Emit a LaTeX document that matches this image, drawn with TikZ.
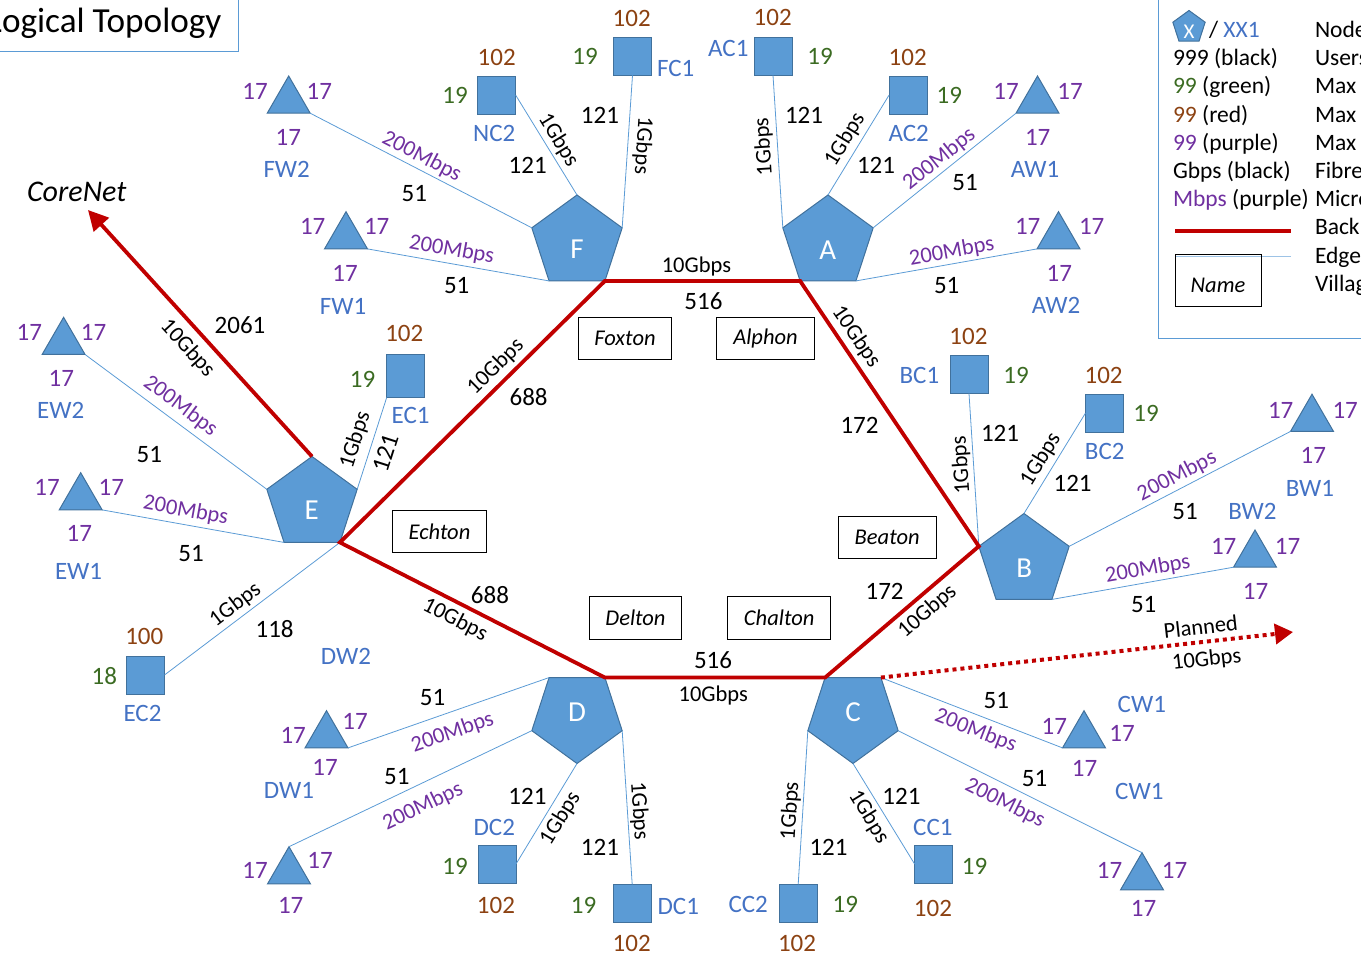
\documentclass[tikz,border=0pt]{standalone}
\usepackage{fontspec}
\setmainfont{Carlito}
\usetikzlibrary{shapes.geometric,arrows.meta}
\definecolor{shfill}{HTML}{5B9BD5}
\definecolor{shedge}{HTML}{41719C}
\definecolor{edgeblue}{HTML}{5B9BD5}
\definecolor{legblue}{HTML}{9DC3E6}
\definecolor{bbred}{HTML}{C00000}
\definecolor{nblue}{HTML}{4472C4}
\definecolor{ngreen}{HTML}{3B6B22}
\definecolor{nbrown}{HTML}{8C4212}
\definecolor{npurple}{HTML}{7030A0}
\tikzset{
  every node/.style={inner sep=0pt, outer sep=0pt},
  fnum/.style={font=\fontsize{25}{30}\selectfont},
  blk/.style={fnum, text=black},
  brn/.style={fnum, text=nbrown},
  grn/.style={fnum, text=ngreen},
  pur/.style={fnum, text=npurple},
  nm/.style={fnum, text=nblue},
  rate/.style={font=\fontsize{22.5}{27}\selectfont, text=black},
  mbps/.style={rate, text=npurple},
  cell/.style={draw=shedge, fill=shfill, line width=1pt, minimum size=38pt},
  wtri/.style={regular polygon, regular polygon sides=3, draw=shedge, fill=shfill, line width=1pt, minimum size=49.6pt},
  pent/.style={regular polygon, regular polygon sides=5, draw=shedge, fill=shfill, line width=1pt, minimum size=95pt},
  pentdown/.style={pent, shape border rotate=180},
  plet/.style={font=\fontsize{29}{33}\selectfont, text=white},
  link/.style={draw=edgeblue, line width=0.8pt},
  bb/.style={draw=bbred, line width=3.8pt},
  vil/.style={draw=black, line width=1pt, font=\fontsize{22.5}{27}\selectfont\itshape, minimum height=42.5pt},
  legt/.style={font=\fontsize{23.5}{28}\selectfont, anchor=base west},
  framebox/.style={draw=edgeblue, line width=1pt},
}
\begin{document}
\begin{tikzpicture}[x=1pt,y=-1pt]
\path[use as bounding box] (0,0) rectangle (1361,957);
\clip (0,0) rectangle (1361,957);

% ---------- title ----------
\draw[framebox] (-5,-5) rectangle (238.3,51.7);
\node[font=\fontsize{35.2}{40}\selectfont, anchor=base east] (title) at (221.5,33) {Logical Topology};

% ---------- legend ----------
\draw[framebox] (1158,-5) rectangle (1375,338.3);
\node[pent, minimum size=34pt] (lpent) at (1189,27.5) {};
\node[font=\fontsize{21}{25}\selectfont, text=white] (lpx) at (1189,31.5) {X};
\node[legt] (lslash) at (1209,37.5) {/ \textcolor{nblue}{XX1}};
\node[legt] (l2) at (1173,65.7) {999 (black)};
\node[legt] (l3) at (1173,93.9) {\textcolor{ngreen}{99} (green)};
\node[legt] (l4) at (1173,122.1) {\textcolor{nbrown}{99} (red)};
\node[legt] (l5) at (1173,150.3) {\textcolor{npurple}{99} (purple)};
\node[legt] (l6) at (1173,178.5) {Gbps (black)};
\node[legt] (l7) at (1173,206.7) {\textcolor{npurple}{Mbps} (purple)};
\node[legt] (r1) at (1315,37.5) {Node};
\node[legt] (r2) at (1315,65.7) {Users};
\node[legt] (r3) at (1315,93.9) {Max};
\node[legt] (r4) at (1315,122.1) {Max};
\node[legt] (r5) at (1315,150.3) {Max};
\node[legt] (r6) at (1315,178.5) {Fibre};
\node[legt] (r7) at (1315,206.7) {Microwave};
\node[legt] (r8) at (1315,234.9) {Backbone};
\node[legt] (r9) at (1315,263.1) {Edge};
\node[legt] (r10) at (1315,291.3) {Village};
\coordinate (lra) at (1175,230.7);
\coordinate (lrb) at (1290.7,230.7);
\draw[bb] (lra) -- (lrb);
\coordinate (lba) at (1175,256.5);
\coordinate (lbb) at (1291,256.5);
\draw[draw=legblue, line width=1.8pt] (lba) -- (lbb);
\node[draw=black, line width=1pt, minimum width=86pt, minimum height=51.7pt] (lnamebox) at (1218,280.2) {};
\node[font=\fontsize{22.5}{27}\selectfont\itshape] (lname) at (1218,285.5) {Name};

% ---------- main nodes ----------
\node[pent] (F) at (577,242.5) {};
\node[pent] (A) at (828,242.5) {};
\node[pent] (B) at (1024,561) {};
\node[pentdown] (C) at (853,716) {};
\node[pentdown] (D) at (577,716) {};
\node[pent] (E) at (312,504) {};
\node[plet] (Ft) at (577,249) {F};
\node[plet] (At) at (827.7,250) {A};
\node[plet] (Bt) at (1024.3,568) {B};
\node[plet] (Ct) at (853.2,711.7) {C};
\node[plet] (Dt) at (577,711.7) {D};
\node[plet] (Et) at (311.8,510) {E};

\node[cell] (FC1) at (632.5,56.3) {};
\node[cell] (NC2) at (496.7,95.2) {};
\node[cell] (AC1) at (773,56.3) {};
\node[cell] (AC2) at (908,95.2) {};
\node[cell] (BC1) at (969,374.5) {};
\node[cell] (BC2) at (1104.4,413.2) {};
\node[cell] (CC1) at (933.6,864) {};
\node[cell] (CC2) at (798.2,903.3) {};
\node[cell] (DC1) at (632.2,903.3) {};
\node[cell] (DC2) at (497,864) {};
\node[cell, minimum height=43pt] (EC1) at (405.7,376) {};
\node[cell] (EC2) at (145.5,675) {};

\node[wtri] (FW2) at (288.7,100.8) {};
\node[wtri] (FW1) at (346,236.5) {};
\node[wtri] (AW1) at (1037.5,100.8) {};
\node[wtri] (AW2) at (1058.5,236.5) {};
\node[wtri] (BW1) at (1312,419) {};
\node[wtri] (BW2) at (1255,554.8) {};
\node[wtri] (CWa) at (1084,735.5) {};
\node[wtri] (CWb) at (1142,877.5) {};
\node[wtri] (DWa) at (326.5,735.5) {};
\node[wtri] (DWb) at (289,871.5) {};
\node[wtri] (EW2) at (63.6,342.1) {};
\node[wtri] (EW1) at (80.7,497.5) {};

% village boxes
\node[vil, minimum width=93pt] (vF) at (625,338.7) {Foxton};
\node[vil, minimum width=98pt] (vA) at (765.5,338.7) {Alphon};
\node[vil, minimum width=94pt] (vE) at (439.5,531.7) {Echton};
\node[vil, minimum width=98pt] (vB) at (887.2,537.5) {Beaton};
\node[vil, minimum width=92pt] (vD) at (635.5,618) {Delton};
\node[vil, minimum width=103pt] (vC) at (779.2,618) {Chalton};

% ---------- edge links ----------
\draw[link] (FC1.south) -- (F.18);
\draw[link] (NC2.east) -- (F.90);
\draw[link] (FW2.330) -- (F.162);
\draw[link] (FW1.330) -- (F.234);
\draw[link] (AC1.south) -- (A.162);
\draw[link] (AC2.west) -- (A.90);
\draw[link] (AW1.210) -- (A.18);
\draw[link] (AW2.210) -- (A.306);
\draw[link] (BC1.south) -- (B.162);
\draw[link] (BC2.west) -- (B.90);
\draw[link] (BW1.210) -- (B.18);
\draw[link] (BW2.210) -- (B.306);
\draw[link] (CWa.210) -- (C.54);
\draw[link] (CWb.90) -- (C.342);
\draw[link] (CC1.west) -- (C.270);
\draw[link] (CC2.north) -- (C.198);
\draw[link] (DWa.330) -- (D.126);
\draw[link] (DWb.90) -- (D.198);
\draw[link] (DC2.east) -- (D.270);
\draw[link] (DC1.north) -- (D.342);
\draw[link] (EW2.330) -- (E.162);
\draw[link] (EW1.330) -- (E.234);
\draw[link] (EC1.south west) -- (E.18);
\draw[link] (EC2.east) -- (E.306);

% ---------- backbone ----------
\draw[bb, line join=miter] (F.306) -- (A.234) -- (B.162) -- (C.126) -- (D.54) -- (E.306) -- cycle;
\coordinate (core) at (88,210);
\coordinate (plan) at (1293,632);
\draw[bb, -{Triangle[length=20pt,width=20pt]}] (E.90) -- (core);
\draw[bb, line width=4pt, dash pattern=on 4pt off 4pt, -{Triangle[length=18pt,width=20pt]}] (C.54) -- (plan);
\node[font=\fontsize{30}{34}\selectfont\itshape] (corenet) at (76.7,191.7) {CoreNet};

% backbone labels
\node[rate] (bfa1) at (696.5,266.5) {10Gbps};
\node[blk] (bfa2) at (703.5,301.5) {516};
\node[rate, rotate=-55.8] (bab1) at (856,336.7) {10Gbps};
\node[blk] (bab2) at (859.5,425) {172};
\node[rate, rotate=40.9] (bbc1) at (927.5,611.7) {10Gbps};
\node[blk] (bbc2) at (884.6,591.7) {172};
\node[blk] (bcd1) at (713,660.5) {516};
\node[rate] (bcd2) at (713.3,695) {10Gbps};
\node[blk] (bde1) at (490,595) {688};
\node[rate, rotate=-27.2] (bde2) at (455,620) {10Gbps};
\node[rate, rotate=44.5] (bef1) at (495.7,366.7) {10Gbps};
\node[blk] (bef2) at (528.6,396.7) {688};
\node[rate, rotate=-47.7] (bec1) at (187.5,348.3) {10Gbps};
\node[blk] (bec2) at (240,325) {2061};
\node[rate, rotate=6.4] (bpl1) at (1200.7,626.7) {Planned};
\node[rate, rotate=6.4] (bpl2) at (1206.7,660) {10Gbps};

% ---------- F cluster labels ----------
\node[brn] (fc1a) at (631.7,18.3) {102};
\node[grn] (fc1b) at (585,56.7) {19};
\node[nm] (fc1c) at (675.7,68.3) {FC1};
\node[brn] (nc2a) at (496.7,57.3) {102};
\node[grn] (nc2b) at (455,95.7) {19};
\node[nm] (nc2c) at (494.3,133.3) {NC2};
\node[pur] (fw2a) at (255,91.7) {17};
\node[pur] (fw2b) at (319.3,91.7) {17};
\node[pur] (fw2c) at (288.3,137.3) {17};
\node[nm] (fw2d) at (286.7,169.3) {FW2};
\node[pur] (fw1a) at (312.7,226.7) {17};
\node[pur] (fw1b) at (376.7,226.7) {17};
\node[pur] (fw1c) at (345,273.3) {17};
\node[nm] (fw1d) at (343,306) {FW1};
\node[rate, rotate=-58.6] (lfnc2a) at (558.3,140) {1Gbps};
\node[blk] (lfnc2b) at (527.7,165.7) {121};
\node[rate, rotate=-93.7] (lffc1a) at (642.7,145.7) {1Gbps};
\node[blk] (lffc1b) at (600,115) {121};
\node[mbps, rotate=-27.4] (lffw2a) at (421.7,156.7) {200Mbps};
\node[blk] (lffw2b) at (414.3,194) {51};
\node[mbps, rotate=-10.3] (lffw1a) at (451.7,250) {200Mbps};
\node[blk] (lffw1b) at (456.7,285.7) {51};

% ---------- A cluster labels ----------
\node[brn] (ac1a) at (772.7,17.3) {102};
\node[nm] (ac1b) at (728.3,48.3) {AC1};
\node[grn] (ac1c) at (820,56.7) {19};
\node[brn] (ac2a) at (907.7,57.3) {102};
\node[grn] (ac2b) at (949.3,95.7) {19};
\node[nm] (ac2c) at (908.7,133.3) {AC2};
\node[pur] (aw1a) at (1006,91.7) {17};
\node[pur] (aw1b) at (1070,91.7) {17};
\node[pur] (aw1c) at (1037.7,137.3) {17};
\node[nm] (aw1d) at (1035,169.3) {AW1};
\node[pur] (aw2a) at (1027.7,226.7) {17};
\node[pur] (aw2b) at (1091.7,226.7) {17};
\node[pur] (aw2c) at (1059.3,273.3) {17};
\node[nm] (aw2d) at (1056,305) {AW2};
\node[rate, rotate=93.6] (laac1a) at (764,146.7) {1Gbps};
\node[blk] (laac1b) at (804,115) {121};
\node[rate, rotate=58.6] (laac2a) at (845,140) {1Gbps};
\node[blk] (laac2b) at (876,165.7) {121};
\node[mbps, rotate=38.7] (laaw1a) at (939.3,159.3) {200Mbps};
\node[blk] (laaw1b) at (965,182.7) {51};
\node[mbps, rotate=10.2] (laaw2a) at (951.7,251.7) {200Mbps};
\node[blk] (laaw2b) at (946.7,285.7) {51};

% ---------- B cluster labels ----------
\node[brn] (bc1a) at (968.4,336.7) {102};
\node[nm] (bc1b) at (919.4,375) {BC1};
\node[grn] (bc1c) at (1016,375) {19};
\node[brn] (bc2a) at (1103.6,375) {102};
\node[grn] (bc2b) at (1146,413.3) {19};
\node[nm] (bc2c) at (1104.7,451.7) {BC2};
\node[pur] (bw1a) at (1280.7,410) {17};
\node[pur] (bw1b) at (1345.2,410) {17};
\node[pur] (bw1c) at (1313.4,455) {17};
\node[nm] (bw1d) at (1310,488.3) {BW1};
\node[nm] (bw2d) at (1252.4,511.7) {BW2};
\node[pur] (bw2a) at (1223.7,546) {17};
\node[pur] (bw2b) at (1287.6,546) {17};
\node[pur] (bw2c) at (1255.5,591.7) {17};
\node[rate, rotate=93.6] (lbbc1a) at (961.5,465) {1Gbps};
\node[blk] (lbbc1b) at (1000,433.3) {121};
\node[rate, rotate=58.7] (lbbc2a) at (1040.8,459.3) {1Gbps};
\node[blk] (lbbc2b) at (1072.6,483.3) {121};
\node[mbps, rotate=27.3] (lbbw1a) at (1177,476) {200Mbps};
\node[blk] (lbbw1b) at (1185,511.7) {51};
\node[mbps, rotate=10.1] (lbbw2a) at (1147.8,569.3) {200Mbps};
\node[blk] (lbbw2b) at (1143.7,605) {51};

% ---------- C cluster labels ----------
\node[nm] (cwad) at (1141.8,704) {CW1};
\node[pur] (cwaa) at (1054.3,726.7) {17};
\node[pur] (cwab) at (1122,733.3) {17};
\node[pur] (cwac) at (1084.6,768.3) {17};
\node[nm] (cwbd) at (1139.3,791.7) {CW1};
\node[pur] (cwba) at (1109.6,870.7) {17};
\node[pur] (cwbb) at (1174.6,870.7) {17};
\node[pur] (cwbc) at (1143.6,908.3) {17};
\node[nm] (cc1a) at (932.9,827.7) {CC1};
\node[grn] (cc1b) at (974.6,866) {19};
\node[brn] (cc1c) at (932.9,908.3) {102};
\node[nm] (cc2a) at (748.2,904.3) {CC2};
\node[grn] (cc2b) at (845.4,904.3) {19};
\node[brn] (cc2c) at (797,943.3) {102};
\node[mbps, rotate=-21.2] (lccwaa) at (975.7,730.7) {200Mbps};
\node[blk] (lccwab) at (996.4,700.7) {51};
\node[mbps, rotate=-26.6] (lccwba) at (1005,803.3) {200Mbps};
\node[blk] (lccwbb) at (1034.6,779) {51};
\node[rate, rotate=-58.5] (lccc1a) at (868.6,816.7) {1Gbps};
\node[blk] (lccc1b) at (901.4,796.7) {121};
\node[rate, rotate=86.4] (lccc2a) at (790.5,811) {1Gbps};
\node[blk] (lccc2b) at (828.5,847) {121};

% ---------- D cluster labels ----------
\node[nm] (dw2n) at (346,656) {DW2};
\node[pur] (dwaa) at (293.2,735) {17};
\node[pur] (dwab) at (355,721.7) {17};
\node[pur] (dwac) at (325,767.3) {17};
\node[nm] (dwad) at (289,790.7) {DW1};
\node[pur] (dwba) at (255,870.7) {17};
\node[pur] (dwbb) at (320,860.7) {17};
\node[pur] (dwbc) at (290.7,905) {17};
\node[nm] (dc2a) at (494.3,827.3) {DC2};
\node[grn] (dc2b) at (455,866) {19};
\node[brn] (dc2c) at (496,905) {102};
\node[grn] (dc1a) at (583.6,905) {19};
\node[nm] (dc1b) at (678.3,906.7) {DC1};
\node[brn] (dc1c) at (631.7,943.3) {102};
\node[blk] (lddwab) at (432.5,697.3) {51};
\node[mbps, rotate=19.3] (lddwaa) at (452.5,732.7) {200Mbps};
\node[blk] (lddwbb) at (396.8,776.7) {51};
\node[mbps, rotate=25.5] (lddwba) at (422.9,806.7) {200Mbps};
\node[blk] (lddc2b) at (527.5,796.7) {121};
\node[rate, rotate=58.7] (lddc2a) at (560.4,818.3) {1Gbps};
\node[rate, rotate=-86.3] (lddc1a) at (639,811) {1Gbps};
\node[blk] (lddc1b) at (600,847.3) {121};

% ---------- E cluster labels ----------
\node[pur] (ew2a) at (29.3,332.3) {17};
\node[pur] (ew2b) at (93.6,332.3) {17};
\node[pur] (ew2c) at (61.4,378.3) {17};
\node[nm] (ew2d) at (60.7,410) {EW2};
\node[pur] (ew1a) at (47.1,487.3) {17};
\node[pur] (ew1b) at (111.4,487.3) {17};
\node[pur] (ew1c) at (79.3,533.3) {17};
\node[nm] (ew1d) at (78.6,571.7) {EW1};
\node[brn] (ec1a) at (404.3,333.3) {102};
\node[grn] (ec1b) at (362.5,379.3) {19};
\node[nm] (ec1c) at (410.7,415) {EC1};
\node[brn] (ec2a) at (144.3,636) {100};
\node[grn] (ec2b) at (104.3,675.7) {18};
\node[nm] (ec2c) at (142.5,713.3) {EC2};
\node[mbps, rotate=-36.7] (leew2a) at (180.4,406) {200Mbps};
\node[blk] (leew2b) at (149.3,455) {51};
\node[mbps, rotate=-10.3] (leew1a) at (185.7,510.7) {200Mbps};
\node[blk] (leew1b) at (191,553.3) {51};
\node[rate, rotate=72.3] (leec1a) at (355.4,440) {1Gbps};
\node[blk, rotate=72.3] (leec1b) at (385.7,453.3) {121};
\node[rate, rotate=37] (leec2a) at (235.4,605) {1Gbps};
\node[blk] (leec2b) at (274.6,629.3) {118};
\end{tikzpicture}
\end{document}
